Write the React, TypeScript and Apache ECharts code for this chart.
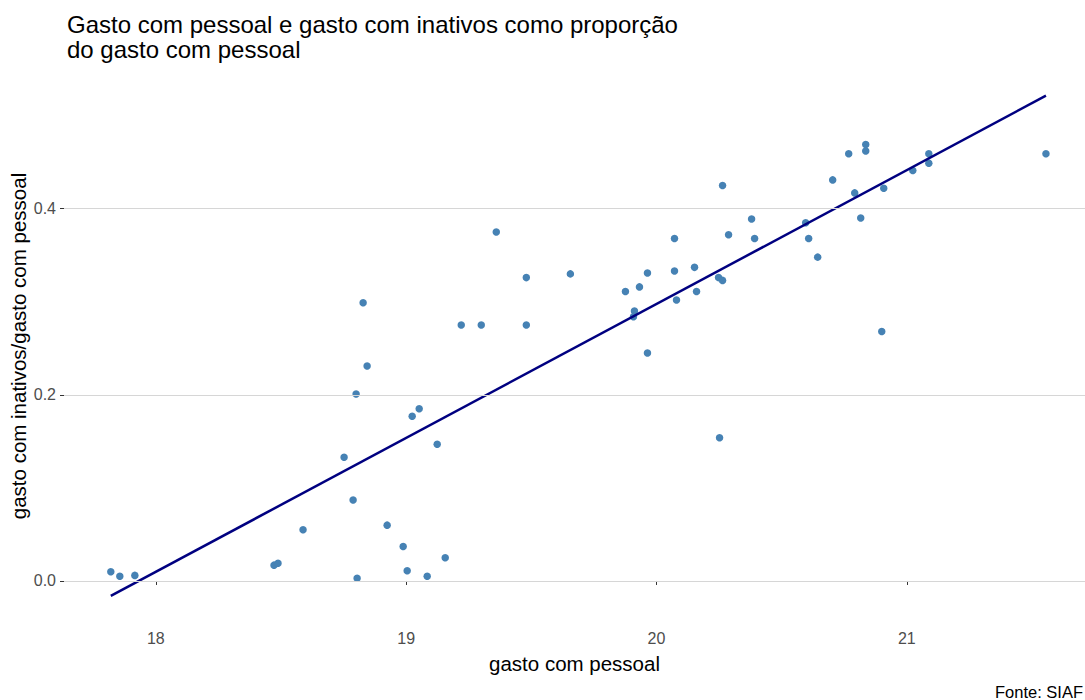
import React, { useEffect, useRef } from "react";
import * as echarts from "echarts";

const titleLines = [
  "Gasto com pessoal e gasto com inativos como proporção",
  "do gasto com pessoal",
];
const xAxisTitle = "gasto com pessoal";
const yAxisTitle = "gasto com inativos/gasto com pessoal";
const sourceText = "Fonte: SIAF";

const xTicks = [18, 19, 20, 21];
const yTicks = [0, 0.2, 0.4];

// gasto com pessoal (log scale values)
const xValues = [
  17.82, 17.856, 17.916, 18.472, 18.488, 18.588, 18.752, 18.788, 18.8, 18.804,
  18.828, 18.844, 18.924, 18.988, 19.004, 19.024, 19.052, 19.084, 19.124, 19.156,
  19.22, 19.3, 19.36, 19.48, 19.48, 19.656, 19.876, 19.908, 19.912, 19.932,
  19.964, 19.964, 20.072, 20.072, 20.08, 20.152, 20.16, 20.248, 20.264, 20.264,
  20.252, 20.288, 20.38, 20.392, 20.596, 20.608, 20.644, 20.704, 20.768, 20.792,
  20.816, 20.836, 20.836, 20.9, 20.908, 21.024, 21.088, 21.088, 21.556,
];
// gasto com inativos / gasto com pessoal
const yValues = [
  0.01, 0.005, 0.006, 0.017, 0.019, 0.055, 0.133, 0.087, 0.201, 0.003,
  0.299, 0.231, 0.06, 0.037, 0.011, 0.177, 0.185, 0.005, 0.147, 0.025,
  0.275, 0.275, 0.375, 0.326, 0.275, 0.33, 0.311, 0.284, 0.29, 0.316,
  0.331, 0.245, 0.368, 0.333, 0.302, 0.337, 0.311, 0.326, 0.323, 0.425,
  0.154, 0.372, 0.389, 0.368, 0.385, 0.368, 0.348, 0.431, 0.459, 0.417,
  0.39, 0.469, 0.462, 0.268, 0.422, 0.441, 0.459, 0.449, 0.459,
];

// fitted regression line endpoints
const fitX = [17.82, 21.556];
const fitY = [-0.016, 0.5215];

const FONT = "'Liberation Sans', Arial, sans-serif";

export default function App() {
  const ref = useRef<HTMLDivElement>(null);

  useEffect(() => {
    if (!ref.current) return;
    const chart = echarts.init(ref.current, null, { renderer: "svg" });
    const points = xValues.map((x, i) => [x, yValues[i]]);
    const fit = fitX.map((x, i) => [x, fitY[i]]);

    chart.setOption({
      animation: false,
      backgroundColor: "#ffffff",
      textStyle: { fontFamily: FONT },
      title: {
        text: titleLines.join("\n"),
        left: 62,
        top: 7,
        textStyle: {
          fontFamily: FONT,
          fontSize: 24,
          fontWeight: "normal",
          color: "#000000",
          lineHeight: 25,
        },
      },
      graphic: [
        {
          type: "text",
          right: 2,
          top: 683,
          style: {
            text: sourceText,
            font: `16.5px ${FONT}`,
            fill: "#000000",
          },
        },
      ],
      grid: {
        left: 64,
        right: 0,
        top: 71,
        bottom: 79,
        containLabel: false,
        outerBoundsMode: "none",
      },
      xAxis: {
        type: "value",
        min: 17.633,
        max: 21.712,
        axisLine: { show: false },
        axisTick: {
          show: true,
          customValues: xTicks,
          length: 4,
          lineStyle: { color: "#333333" },
        },
        axisLabel: {
          customValues: xTicks,
          color: "#4d4d4d",
          fontSize: 16,
          margin: 9,
          fontFamily: FONT,
        },
        splitLine: { show: false },
        name: xAxisTitle,
        nameLocation: "middle",
        nameGap: 32,
        nameTextStyle: { fontSize: 20.5, color: "#000000", fontFamily: FONT },
      },
      yAxis: {
        type: "value",
        min: -0.043,
        max: 0.548,
        axisLine: { show: false },
        axisTick: {
          show: true,
          customValues: yTicks,
          length: 4,
          lineStyle: { color: "#333333" },
        },
        axisLabel: {
          customValues: yTicks,
          color: "#4d4d4d",
          fontSize: 16,
          margin: 8,
          fontFamily: FONT,
          formatter: (v: number) => v.toFixed(1),
        },
        splitLine: { show: false },
        name: yAxisTitle,
        nameLocation: "middle",
        nameGap: 35,
        nameMoveOverlap: false,
        nameTextStyle: { fontSize: 20.5, color: "#000000", fontFamily: FONT },
      },
      series: [
        {
          type: "line",
          data: [],
          z: 0,
          silent: true,
          markLine: {
            silent: true,
            symbol: "none",
            label: { show: false },
            lineStyle: { color: "#d6d6d6", width: 1, type: "solid" },
            data: yTicks.map((v) => ({ yAxis: v })),
          },
        },
        {
          type: "scatter",
          data: points,
          symbolSize: 7.5,
          itemStyle: { color: "#4682b4", opacity: 1 },
          z: 2,
        },
        {
          type: "line",
          data: fit,
          symbol: "none",
          lineStyle: { color: "#000080", width: 2.5 },
          z: 3,
        },
      ],
    });
    return () => chart.dispose();
  }, []);

  return (
    <div
      ref={ref}
      style={{ position: "fixed", left: 0, top: 0, width: 1085, height: 700 }}
    />
  );
}
